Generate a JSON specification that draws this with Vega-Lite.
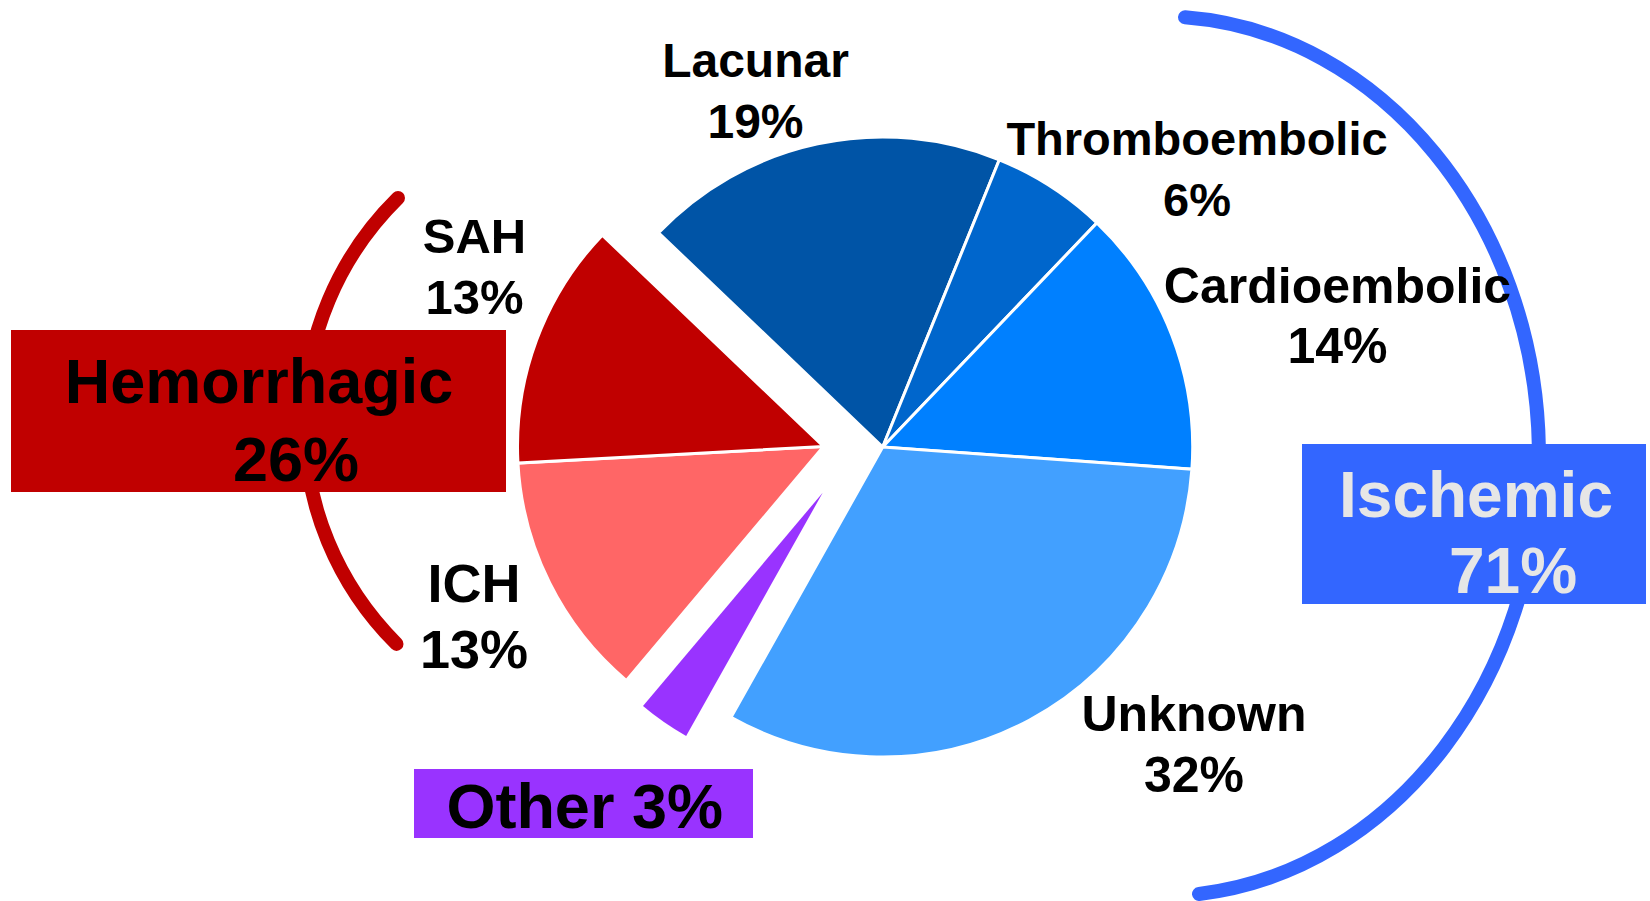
{
  "$schema": "https://vega.github.io/schema/vega-lite/v6.json",
  "width": 1650,
  "height": 901,
  "padding": 0,
  "autosize": {"type": "none"},
  "background": "white",
  "config": {"view": {"stroke": null}},
  "data": {
    "values": [
      {"type": "Lacunar", "group": "Ischemic", "pct": 0.19, "order": 1},
      {"type": "Thromboembolic", "group": "Ischemic", "pct": 0.06, "order": 2},
      {"type": "Cardioembolic", "group": "Ischemic", "pct": 0.14, "order": 3},
      {"type": "Unknown", "group": "Ischemic", "pct": 0.32, "order": 4},
      {"type": "Other", "group": "Other", "pct": 0.03, "order": 5},
      {"type": "ICH", "group": "Hemorrhagic", "pct": 0.13, "order": 6},
      {"type": "SAH", "group": "Hemorrhagic", "pct": 0.13, "order": 7}
    ]
  },
  "transform": [
    {"stack": "pct", "groupby": [], "sort": [{"field": "order", "order": "ascending"}], "as": ["t0", "t1"]},
    {"calculate": "[datum.type, format(datum.pct, '.0%')]", "as": "label"}
  ],
  "layer": [
    {
      "transform": [{"filter": "datum.group === 'Hemorrhagic'"}, {"aggregate": [{"op": "sum", "field": "pct", "as": "total"}], "groupby": ["group"]}],
      "mark": {"type": "point", "shape": "M-220,-223.5A313.7,313.7 0 0 0 -221.5,222.4", "size": 4, "filled": false, "stroke": "#C00000", "strokeWidth": 14, "strokeCap": "round", "opacity": 1},
      "encoding": {
        "x": {"datum": 618, "type": "quantitative", "scale": {"domain": [0, 1650], "nice": false, "zero": false}, "axis": null},
        "y": {"datum": 421.5, "type": "quantitative", "scale": {"domain": [0, 901], "nice": false, "zero": false, "reverse": true}, "axis": null}
      }
    },
    {
      "transform": [{"filter": "datum.group === 'Ischemic'"}, {"aggregate": [{"op": "sum", "field": "pct", "as": "total"}], "groupby": ["group"]}],
      "mark": {"type": "point", "shape": "M-2,-437.7A379,440 0 0 1 12,439", "size": 4, "filled": false, "stroke": "#3366FF", "strokeWidth": 14, "strokeCap": "round", "opacity": 1},
      "encoding": {
        "x": {"datum": 1187, "type": "quantitative", "scale": {"domain": [0, 1650], "nice": false, "zero": false}, "axis": null},
        "y": {"datum": 455, "type": "quantitative", "scale": {"domain": [0, 901], "nice": false, "zero": false, "reverse": true}, "axis": null}
      }
    },
    {
      "transform": [{"filter": "datum.group === 'Hemorrhagic'"}, {"aggregate": [{"op": "sum", "field": "pct", "as": "total"}], "groupby": ["group"]}],
      "mark": {"type": "rect", "color": "#C00000"},
      "encoding": {
        "x": {"datum": 11, "type": "quantitative", "scale": {"domain": [0, 1650], "nice": false, "zero": false}, "axis": null},
        "x2": {"datum": 506},
        "y": {"datum": 330, "type": "quantitative", "scale": {"domain": [0, 901], "nice": false, "zero": false, "reverse": true}, "axis": null},
        "y2": {"datum": 492}
      }
    },
    {
      "transform": [{"filter": "datum.group === 'Ischemic'"}, {"aggregate": [{"op": "sum", "field": "pct", "as": "total"}], "groupby": ["group"]}],
      "mark": {"type": "rect", "color": "#3366FF"},
      "encoding": {
        "x": {"datum": 1302, "type": "quantitative", "scale": {"domain": [0, 1650], "nice": false, "zero": false}, "axis": null},
        "x2": {"datum": 1646},
        "y": {"datum": 444, "type": "quantitative", "scale": {"domain": [0, 901], "nice": false, "zero": false, "reverse": true}, "axis": null},
        "y2": {"datum": 604}
      }
    },
    {
      "transform": [{"filter": "datum.group === 'Other'"}, {"aggregate": [{"op": "sum", "field": "pct", "as": "total"}], "groupby": ["group"]}],
      "mark": {"type": "rect", "color": "#9933FF"},
      "encoding": {
        "x": {"datum": 414, "type": "quantitative", "scale": {"domain": [0, 1650], "nice": false, "zero": false}, "axis": null},
        "x2": {"datum": 753},
        "y": {"datum": 769, "type": "quantitative", "scale": {"domain": [0, 901], "nice": false, "zero": false, "reverse": true}, "axis": null},
        "y2": {"datum": 838}
      }
    },
    {
      "transform": [{"filter": "datum.group === 'Ischemic'"}],
      "mark": {"type": "arc", "radius": 310, "stroke": "white", "strokeWidth": 3},
      "encoding": {
        "x": {"datum": 882.7, "type": "quantitative", "scale": {"domain": [0, 1650], "nice": false, "zero": false}, "axis": null},
        "y": {"datum": 447, "type": "quantitative", "scale": {"domain": [0, 901], "nice": false, "zero": false, "reverse": true}, "axis": null},
        "theta": {"field": "t0", "type": "quantitative", "scale": {"domain": [0, 1], "range": [-0.8081, 5.4751]}},
        "theta2": {"field": "t1"},
        "color": {"field": "type", "type": "nominal", "legend": null, "scale": {"domain": ["Lacunar", "Thromboembolic", "Cardioembolic", "Unknown", "Other", "ICH", "SAH"], "range": ["#0054A6", "#0066CC", "#0080FF", "#42A0FF", "#9933FF", "#FF6666", "#C00000"]}}
      }
    },
    {
      "transform": [{"filter": "datum.group === 'Hemorrhagic'"}],
      "mark": {"type": "arc", "radius": 306, "stroke": "white", "strokeWidth": 3},
      "encoding": {
        "x": {"datum": 823.5, "type": "quantitative", "scale": {"domain": [0, 1650], "nice": false, "zero": false}, "axis": null},
        "y": {"datum": 446.5, "type": "quantitative", "scale": {"domain": [0, 901], "nice": false, "zero": false, "reverse": true}, "axis": null},
        "theta": {"field": "t0", "type": "quantitative", "scale": {"domain": [0, 1], "range": [-0.8081, 5.4751]}},
        "theta2": {"field": "t1"},
        "color": {"field": "type", "type": "nominal", "legend": null, "scale": {"domain": ["Lacunar", "Thromboembolic", "Cardioembolic", "Unknown", "Other", "ICH", "SAH"], "range": ["#0054A6", "#0066CC", "#0080FF", "#42A0FF", "#9933FF", "#FF6666", "#C00000"]}}
      }
    },
    {
      "transform": [{"filter": "datum.group === 'Other'"}],
      "mark": {"type": "arc", "radius": 279},
      "encoding": {
        "x": {"datum": 822.7, "type": "quantitative", "scale": {"domain": [0, 1650], "nice": false, "zero": false}, "axis": null},
        "y": {"datum": 492.7, "type": "quantitative", "scale": {"domain": [0, 901], "nice": false, "zero": false, "reverse": true}, "axis": null},
        "theta": {"field": "t0", "type": "quantitative", "scale": {"domain": [0, 1], "range": [-0.8081, 5.4751]}},
        "theta2": {"field": "t1"},
        "color": {"field": "type", "type": "nominal", "legend": null, "scale": {"domain": ["Lacunar", "Thromboembolic", "Cardioembolic", "Unknown", "Other", "ICH", "SAH"], "range": ["#0054A6", "#0066CC", "#0080FF", "#42A0FF", "#9933FF", "#FF6666", "#C00000"]}}
      }
    },
    {
      "transform": [{"filter": "datum.type === 'Lacunar'"}],
      "mark": {"type": "text", "font": "Liberation Sans", "fontWeight": "bold", "fontSize": 48, "lineHeight": 61, "align": "center", "baseline": "top", "color": "black"},
      "encoding": {
        "x": {"datum": 755.5, "type": "quantitative", "scale": {"domain": [0, 1650], "nice": false, "zero": false}, "axis": null},
        "y": {"datum": 39.3, "type": "quantitative", "scale": {"domain": [0, 901], "nice": false, "zero": false, "reverse": true}, "axis": null},
        "text": {"field": "label", "type": "nominal"}
      }
    },
    {
      "transform": [{"filter": "datum.type === 'Thromboembolic'"}],
      "mark": {"type": "text", "font": "Liberation Sans", "fontWeight": "bold", "fontSize": 47, "lineHeight": 61, "align": "center", "baseline": "top", "color": "black"},
      "encoding": {
        "x": {"datum": 1197, "type": "quantitative", "scale": {"domain": [0, 1650], "nice": false, "zero": false}, "axis": null},
        "y": {"datum": 118, "type": "quantitative", "scale": {"domain": [0, 901], "nice": false, "zero": false, "reverse": true}, "axis": null},
        "text": {"field": "label", "type": "nominal"}
      }
    },
    {
      "transform": [{"filter": "datum.type === 'Cardioembolic'"}],
      "mark": {"type": "text", "font": "Liberation Sans", "fontWeight": "bold", "fontSize": 50, "lineHeight": 60, "align": "center", "baseline": "top", "color": "black"},
      "encoding": {
        "x": {"datum": 1337.5, "type": "quantitative", "scale": {"domain": [0, 1650], "nice": false, "zero": false}, "axis": null},
        "y": {"datum": 263.3, "type": "quantitative", "scale": {"domain": [0, 901], "nice": false, "zero": false, "reverse": true}, "axis": null},
        "text": {"field": "label", "type": "nominal"}
      }
    },
    {
      "transform": [{"filter": "datum.type === 'Unknown'"}],
      "mark": {"type": "text", "font": "Liberation Sans", "fontWeight": "bold", "fontSize": 50, "lineHeight": 61, "align": "center", "baseline": "top", "color": "black"},
      "encoding": {
        "x": {"datum": 1194, "type": "quantitative", "scale": {"domain": [0, 1650], "nice": false, "zero": false}, "axis": null},
        "y": {"datum": 691, "type": "quantitative", "scale": {"domain": [0, 901], "nice": false, "zero": false, "reverse": true}, "axis": null},
        "text": {"field": "label", "type": "nominal"}
      }
    },
    {
      "transform": [{"filter": "datum.type === 'SAH'"}],
      "mark": {"type": "text", "font": "Liberation Sans", "fontWeight": "bold", "fontSize": 49, "lineHeight": 61, "align": "center", "baseline": "top", "color": "black"},
      "encoding": {
        "x": {"datum": 474.5, "type": "quantitative", "scale": {"domain": [0, 1650], "nice": false, "zero": false}, "axis": null},
        "y": {"datum": 214.3, "type": "quantitative", "scale": {"domain": [0, 901], "nice": false, "zero": false, "reverse": true}, "axis": null},
        "text": {"field": "label", "type": "nominal"}
      }
    },
    {
      "transform": [{"filter": "datum.type === 'ICH'"}],
      "mark": {"type": "text", "font": "Liberation Sans", "fontWeight": "bold", "fontSize": 54, "lineHeight": 66, "align": "center", "baseline": "top", "color": "black"},
      "encoding": {
        "x": {"datum": 474, "type": "quantitative", "scale": {"domain": [0, 1650], "nice": false, "zero": false}, "axis": null},
        "y": {"datum": 558.7, "type": "quantitative", "scale": {"domain": [0, 901], "nice": false, "zero": false, "reverse": true}, "axis": null},
        "text": {"field": "label", "type": "nominal"}
      }
    },
    {
      "transform": [{"filter": "datum.group === 'Hemorrhagic'"}, {"aggregate": [{"op": "sum", "field": "pct", "as": "total"}], "groupby": ["group"]}],
      "mark": {"type": "text", "font": "Liberation Sans", "fontWeight": "bold", "fontSize": 63, "align": "center", "baseline": "alphabetic", "color": "black"},
      "encoding": {
        "x": {"datum": 259, "type": "quantitative", "scale": {"domain": [0, 1650], "nice": false, "zero": false}, "axis": null},
        "y": {"datum": 403.3, "type": "quantitative", "scale": {"domain": [0, 901], "nice": false, "zero": false, "reverse": true}, "axis": null},
        "text": {"field": "group", "type": "nominal"}
      }
    },
    {
      "transform": [{"filter": "datum.group === 'Hemorrhagic'"}, {"aggregate": [{"op": "sum", "field": "pct", "as": "total"}], "groupby": ["group"]}],
      "mark": {"type": "text", "font": "Liberation Sans", "fontWeight": "bold", "fontSize": 63, "align": "center", "baseline": "alphabetic", "color": "black"},
      "encoding": {
        "x": {"datum": 296, "type": "quantitative", "scale": {"domain": [0, 1650], "nice": false, "zero": false}, "axis": null},
        "y": {"datum": 481, "type": "quantitative", "scale": {"domain": [0, 901], "nice": false, "zero": false, "reverse": true}, "axis": null},
        "text": {"field": "total", "type": "quantitative", "format": ".0%"}
      }
    },
    {
      "transform": [{"filter": "datum.group === 'Ischemic'"}, {"aggregate": [{"op": "sum", "field": "pct", "as": "total"}], "groupby": ["group"]}],
      "mark": {"type": "text", "font": "Liberation Sans", "fontWeight": "bold", "fontSize": 64, "align": "center", "baseline": "alphabetic", "color": "#E6E6E6"},
      "encoding": {
        "x": {"datum": 1476, "type": "quantitative", "scale": {"domain": [0, 1650], "nice": false, "zero": false}, "axis": null},
        "y": {"datum": 516.7, "type": "quantitative", "scale": {"domain": [0, 901], "nice": false, "zero": false, "reverse": true}, "axis": null},
        "text": {"field": "group", "type": "nominal"}
      }
    },
    {
      "transform": [{"filter": "datum.group === 'Ischemic'"}, {"aggregate": [{"op": "sum", "field": "pct", "as": "total"}], "groupby": ["group"]}],
      "mark": {"type": "text", "font": "Liberation Sans", "fontWeight": "bold", "fontSize": 64, "align": "center", "baseline": "alphabetic", "color": "#E6E6E6"},
      "encoding": {
        "x": {"datum": 1513, "type": "quantitative", "scale": {"domain": [0, 1650], "nice": false, "zero": false}, "axis": null},
        "y": {"datum": 593.3, "type": "quantitative", "scale": {"domain": [0, 901], "nice": false, "zero": false, "reverse": true}, "axis": null},
        "text": {"field": "total", "type": "quantitative", "format": ".0%"}
      }
    },
    {
      "transform": [{"filter": "datum.group === 'Other'"}, {"aggregate": [{"op": "sum", "field": "pct", "as": "total"}], "groupby": ["group"]}, {"calculate": "datum.group + ' ' + format(datum.total, '.0%')", "as": "otherLabel"}],
      "mark": {"type": "text", "font": "Liberation Sans", "fontWeight": "bold", "fontSize": 63, "align": "center", "baseline": "alphabetic", "color": "black"},
      "encoding": {
        "x": {"datum": 584.7, "type": "quantitative", "scale": {"domain": [0, 1650], "nice": false, "zero": false}, "axis": null},
        "y": {"datum": 828.3, "type": "quantitative", "scale": {"domain": [0, 901], "nice": false, "zero": false, "reverse": true}, "axis": null},
        "text": {"field": "otherLabel", "type": "nominal"}
      }
    }
  ]
}
